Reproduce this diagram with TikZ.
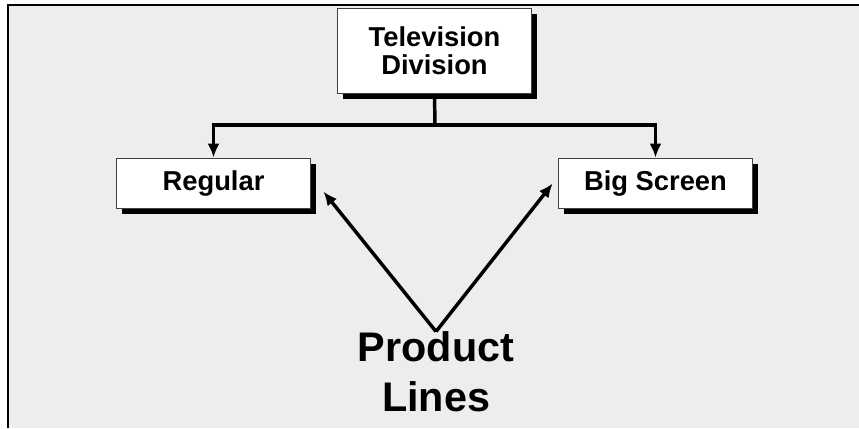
\documentclass[tikz,border=0pt]{standalone}
\usepackage{fontspec}
\setmainfont{Liberation Sans}
\usetikzlibrary{arrows.meta,shadows,calc}
\definecolor{panel}{HTML}{EDEDED}

\begin{document}
\begin{tikzpicture}[x=0.75pt,y=-0.75pt]
\tikzstyle{unit}=[rectangle, draw=black!75, fill=white, line width=0.8pt, minimum width=146pt, inner sep=0pt, align=center, font=\fontsize{20.5}{21}\selectfont\bfseries, drop shadow={shadow xshift=4pt, shadow yshift=-4pt, fill=black, opacity=1}]
\tikzstyle{division}=[unit, minimum height=64pt]
\tikzstyle{prodline}=[unit, minimum height=38pt]
\tikzstyle{connect}=[-{Latex[length=10.5pt,width=9pt]}, line width=2.6pt]
\tikzstyle{tag}=[align=center, inner sep=0pt, font=\fontsize{31}{37.5}\selectfont\bfseries]

  % panel
  \useasboundingbox (0,0) rectangle (859,428);
  \fill[panel] (8,5) rectangle (859,428);
  \draw[line width=2.2pt] (8,428) -- (8,5) -- (859,5);

  \node[division] (tv) at (434.5,51) {Television\\Division};
  \node[prodline] (reg) at (213.5,183.5) {Regular};
  \node[prodline] (big) [right of=reg, node distance=331.5pt] {Big Screen};
  \node[tag] (pl) at (436,372) {Product\\Lines};
  \coordinate (split) at (435,125);

  \draw[line width=2.6pt] (tv.south) -- (split);
  \draw[connect] (split) -| (reg.north);
  \draw[connect] (split) -| (big.north);

  \draw[connect] (pl.north) -- ([shift={(12,8)}]reg.east);
  \draw[connect] (pl.north) -- ([shift={(-5,0)}]big.west);

\end{tikzpicture}
\end{document}
